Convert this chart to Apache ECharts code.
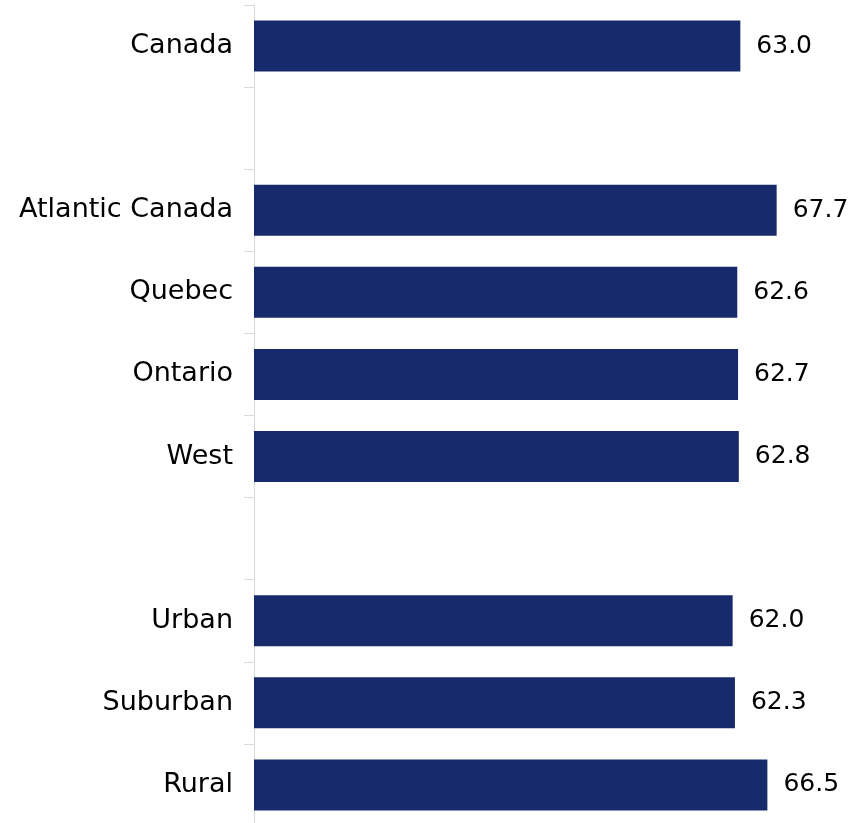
<!DOCTYPE html>
<html>
<head>
<meta charset="utf-8">
<title>Regional bars</title>
<script src="https://cdn.jsdelivr.net/npm/echarts@6/dist/echarts.min.js"></script>
<style>
  html, body { margin: 0; padding: 0; background: #ffffff; }
  #chart { width: 852px; height: 823px; }
</style>
</head>
<body>
<div id="chart"></div>
<script>
// Categories top to bottom; empty names leave a gap between groups
const categories = ['Canada', '', 'Atlantic Canada', 'Quebec', 'Ontario', 'West', '', 'Urban', 'Suburban', 'Rural'];
// Values per category (null for the spacer rows)
const values = [63.0, null, 67.7, 62.6, 62.7, 62.8, null, 62.0, 62.3, 66.5];

const FONT = '"DejaVu Sans", sans-serif';

const chart = echarts.init(document.getElementById('chart'));
chart.setOption({
  animation: false,
  backgroundColor: '#ffffff',
  grid: { left: 254, width: 579, top: 5, height: 821, outerBoundsMode: 'none' },
  xAxis: {
    type: 'value',
    min: 0,
    max: 75,
    show: false
  },
  yAxis: {
    type: 'category',
    data: categories,
    inverse: true,
    axisLine: { show: true, lineStyle: { color: '#d9d9d9', width: 1 } },
    axisTick: { show: true, length: 10, lineStyle: { color: '#d9d9d9' } },
    axisLabel: {
      margin: 21,
      color: '#000000',
      fontFamily: FONT,
      fontSize: 27
    },
    splitLine: { show: false }
  },
  series: [{
    type: 'bar',
    data: values.map(v => (v === null ? '-' : v)),
    barWidth: 51,
    itemStyle: { color: '#172a6b' },
    label: {
      show: true,
      position: 'right',
      distance: 16,
      color: '#000000',
      fontFamily: FONT,
      fontSize: 25,
      formatter: p => Number(p.value).toFixed(1)
    }
  }]
});
</script>
</body>
</html>
